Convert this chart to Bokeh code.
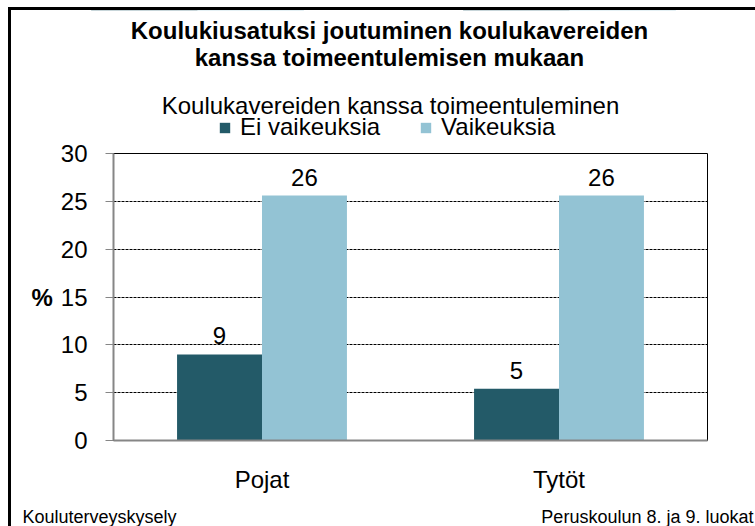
from bokeh.plotting import figure
from bokeh.layouts import column
from bokeh.models import (ColumnDataSource, FactorRange, Label, LabelSet, Legend,
                          LegendItem, SingleIntervalTicker, Range1d)
from bokeh.core.properties import value
from bokeh.transform import dodge
from bokeh.embed import file_html
from bokeh.resources import INLINE

# ---- data ----
categories = ["Pojat", "Tytöt"]
ei_vaikeuksia = [9.0, 5.4]
vaikeuksia = [25.6, 25.6]
series_names = ["Ei vaikeuksia", "Vaikeuksia"]
title_lines = ["Koulukiusatuksi joutuminen koulukavereiden",
               "kanssa toimeentulemisen mukaan"]
subtitle = "Koulukavereiden kanssa toimeentuleminen"
footer_left = "Kouluterveyskysely"
footer_right = "Peruskoulun 8. ja 9. luokat"
y_label = "%"

DARK = "#235A68"
LIGHT = "#93C3D4"
AXIS = "#868686"
FONT = "Liberation Sans"
FS = "24px"

W = 744
HEAD_H, MAIN_H, FOOT_H = 131, 364, 21

src = ColumnDataSource(dict(
    cat=categories,
    a=ei_vaikeuksia,
    b=vaikeuksia,
    a_lbl=[f"{v:.0f}" for v in ei_vaikeuksia],
    b_lbl=[f"{v:.0f}" for v in vaikeuksia],
))
xr = FactorRange(*categories, range_padding=0)
BW = 0.286


def blank(height, x_range=(0, 1), y_range=(0, 1)):
    f = figure(width=W, height=height, x_range=x_range, y_range=y_range,
               x_axis_type=None, y_axis_type=None, output_backend="svg",
               toolbar_location=None, min_border=0, frame_align=False)
    f.outline_line_color = None
    f.background_fill_color = "white"
    f.border_fill_color = "white"
    return f


def add_text(f, txt, x, y, size, bold=False, align="center"):
    f.add_layout(Label(x=x, y=y, x_units="screen", y_units="screen", text=txt,
                       text_align=align, text_baseline="middle", text_font=FONT,
                       text_font_size=size, text_color="black",
                       text_font_style="bold" if bold else "normal"))


def bars(f):
    ra = f.vbar(x=dodge("cat", -BW / 2, range=xr), top="a", width=BW, source=src,
                fill_color=DARK, line_color=None)
    rb = f.vbar(x=dodge("cat", BW / 2, range=xr), top="b", width=BW, source=src,
                fill_color=LIGHT, line_color=None)
    return ra, rb


# ---- header: title, subtitle, legend (its bars lie outside its y range) ----
head = blank(HEAD_H, x_range=xr, y_range=Range1d(-10, -5))
add_text(head, title_lines[0], 378, 111, FS, bold=True)
add_text(head, title_lines[1], 378, 84, FS, bold=True)
add_text(head, subtitle, 379, 36, FS)
h1, h2 = bars(head)
legend = Legend(items=[LegendItem(label=series_names[0], renderers=[h1]),
                       LegendItem(label=series_names[1], renderers=[h2])],
                orientation="horizontal", location=(207, 0),
                glyph_width=13, glyph_height=13, label_standoff=9, spacing=39,
                padding=0, margin=0, border_line_color=None,
                background_fill_alpha=0, label_text_font=FONT,
                label_text_font_size=FS, label_text_color="black")
head.add_layout(legend, "center")

# ---- main chart ----
p = figure(x_range=xr, y_range=(0, 30),
           width=W, height=MAIN_H, output_backend="svg", toolbar_location=None,
           min_border_left=102, min_border_right=48, min_border_top=12,
           min_border_bottom=65, frame_align=False)
p.background_fill_color = "white"
p.border_fill_color = "white"
p.outline_line_color = "black"
p.outline_line_width = 1

r1, r2 = bars(p)

for col, lbl, off in (("a", "a_lbl", -BW / 2), ("b", "b_lbl", BW / 2)):
    p.add_layout(LabelSet(x=dodge("cat", off, range=xr), y=col, text=lbl,
                          source=src, text_align="center", text_baseline="alphabetic",
                          y_offset=10, text_font=value(FONT), text_font_size=value(FS),
                          text_color="black"))

p.xgrid.grid_line_color = None
p.ygrid.grid_line_color = "black"
p.ygrid.grid_line_dash = "3 1"
p.ygrid.grid_line_width = 1

p.yaxis.ticker = SingleIntervalTicker(interval=5)
p.yaxis.axis_line_color = AXIS
p.yaxis.axis_line_width = 2
p.yaxis.major_tick_line_color = AXIS
p.yaxis.major_tick_in = 0
p.yaxis.major_tick_out = 8
p.yaxis.minor_tick_line_color = None
p.yaxis.major_label_text_font = FONT
p.yaxis.major_label_text_font_size = FS
p.yaxis.major_label_text_color = "black"
p.yaxis.major_label_standoff = 18
p.yaxis.axis_label = y_label
p.yaxis.axis_label_orientation = "horizontal"
p.yaxis.axis_label_text_font = FONT
p.yaxis.axis_label_text_font_size = FS
p.yaxis.axis_label_text_font_style = "bold"
p.yaxis.axis_label_text_color = "black"
p.yaxis.axis_label_standoff = 5

p.xaxis.axis_line_color = AXIS
p.xaxis.axis_line_width = 2
p.xaxis.major_tick_line_color = None
p.xaxis.major_tick_in = 0
p.xaxis.major_tick_out = 0
p.xaxis.minor_tick_line_color = None
p.xaxis.major_label_text_font = FONT
p.xaxis.major_label_text_font_size = FS
p.xaxis.major_label_text_color = "black"
p.xaxis.major_label_standoff = 25

# ---- footer ----
foot = blank(FOOT_H)
add_text(foot, footer_left, 11, 10, "18px", align="left")
add_text(foot, footer_right, 742, 10, "18px", align="right")

layout = column(head, p, foot, spacing=0,
                styles={"margin-left": "8px", "margin-top": "7px",
                        "border-left": "3px solid black",
                        "border-top": "3px solid black"})

open("out.html", "w").write(file_html(layout, INLINE))
